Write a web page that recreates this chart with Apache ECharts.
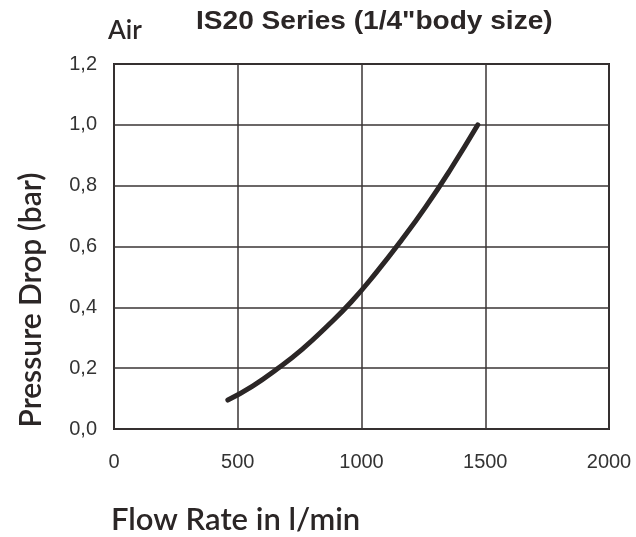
<!DOCTYPE html>
<html>
<head>
<meta charset="utf-8">
<script src="https://cdn.jsdelivr.net/npm/echarts@6/dist/echarts.min.js"></script>
<style>
  html, body { margin: 0; padding: 0; background: #fff; }
  #chart { width: 636px; height: 537px; }
</style>
</head>
<body>
<div id="chart"></div>
<script>
// Pressure drop curve for the IS20 filter (air)
const flowRate = [460, 560, 660, 760, 860, 960, 1060, 1160, 1260, 1360, 1470];
const pressureDrop = [0.095, 0.141, 0.198, 0.262, 0.337, 0.419, 0.515, 0.619, 0.731, 0.854, 1.0];
const xTicks = [0, 500, 1000, 1500, 2000];
const yTicks = [0, 0.2, 0.4, 0.6, 0.8, 1.0, 1.2];

const titleText = 'IS20 Series (1/4"body size)';
const mediumText = 'Air';
const xName = 'Flow Rate in l/min';
const yName = 'Pressure Drop (bar)';

const ink = '#2b2626';
const gridInk = '#3a3434';
const tickFont = 'Liberation Sans, Arial, sans-serif';
const nameFont = 'Lato, "Open Sans", sans-serif';

const chart = echarts.init(document.getElementById('chart'), null, { renderer: 'canvas' });

chart.setOption({
  backgroundColor: '#ffffff',
  animation: false,
  grid: { left: 114, right: 27, top: 64, bottom: 108, show: true, borderColor: ink, borderWidth: 2 },
  xAxis: {
    type: 'value',
    min: xTicks[0],
    max: xTicks[xTicks.length - 1],
    interval: 500,
    axisLine: { show: false },
    axisTick: { show: false },
    splitLine: { show: true, lineStyle: { color: gridInk, width: 1.5 } },
    axisLabel: {
      margin: 23,
      color: '#333',
      fontFamily: tickFont,
      fontSize: 20,
      formatter: v => String(v)
    }
  },
  yAxis: {
    type: 'value',
    min: yTicks[0],
    max: yTicks[yTicks.length - 1],
    interval: 0.2,
    axisLine: { show: false },
    axisTick: { show: false },
    splitLine: { show: true, lineStyle: { color: gridInk, width: 1.5 } },
    axisLabel: {
      margin: 17,
      color: '#333',
      fontFamily: tickFont,
      fontSize: 20,
      formatter: v => v.toFixed(1).replace('.', ',')
    }
  },
  series: [{
    type: 'line',
    data: flowRate.map((x, i) => [x, pressureDrop[i]]),
    smooth: 0.5,
    showSymbol: false,
    lineStyle: { color: ink, width: 5, cap: 'round' }
  }],
  graphic: [
    {
      type: 'text', x: 196, y: 22, scaleX: 1.08,
      style: { text: titleText, fill: ink, verticalAlign: 'middle', font: 'bold 26px "Liberation Sans", Arial, sans-serif' }
    },
    {
      type: 'text', x: 108, y: 31,
      style: { text: mediumText, fill: ink, verticalAlign: 'middle', font: '600 26px ' + nameFont }
    },
    {
      type: 'text', x: 111, y: 520,
      style: { text: xName, fill: ink, verticalAlign: 'middle', font: '600 31px ' + nameFont }
    },
    {
      type: 'text', x: 31, y: 300, rotation: Math.PI / 2,
      style: { text: yName, fill: ink, align: 'center', verticalAlign: 'middle', font: '600 30px ' + nameFont }
    }
  ]
});
</script>
</body>
</html>
